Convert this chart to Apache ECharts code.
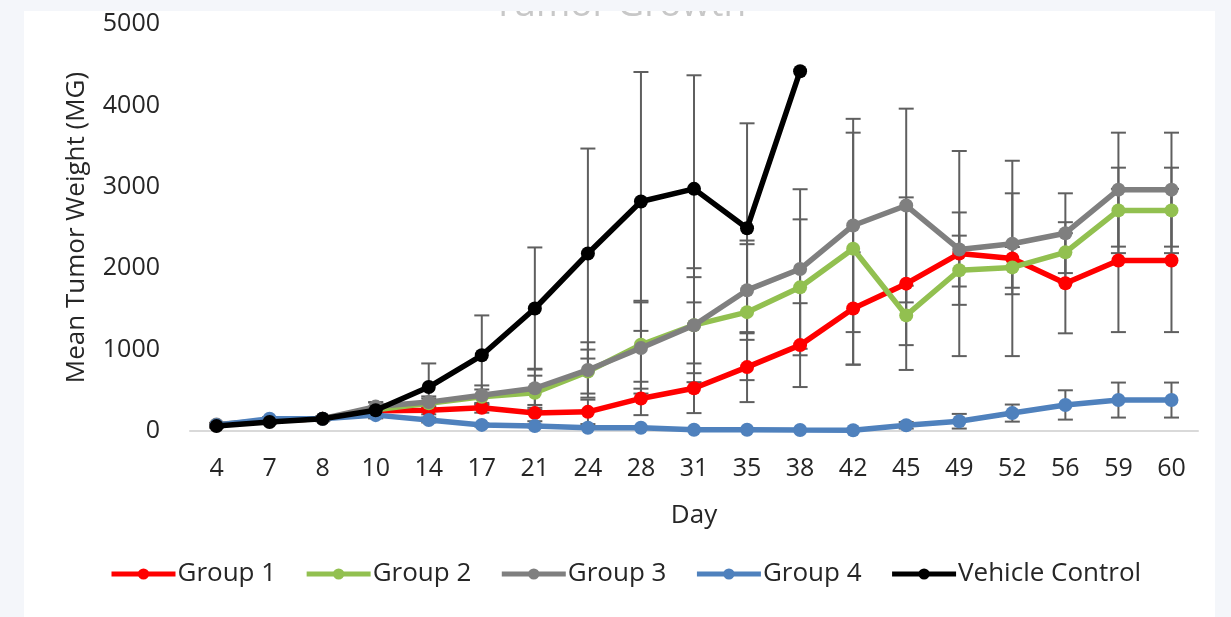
<!DOCTYPE html>
<html>
<head>
<meta charset="utf-8">
<title>Tumor Growth</title>
<script src="https://cdn.jsdelivr.net/npm/echarts@6/dist/echarts.min.js"></script>
<style>
  html, body { margin: 0; padding: 0; background: #f4f6fa; width: 1231px; height: 617px; overflow: hidden; }
  #chart { position: absolute; left: 24px; top: 11px; width: 1191px; height: 606px; background: #ffffff; }
</style>
</head>
<body>
<div id="chart"></div>
<script>
// Study days (x categories)
const days = ['4', '7', '8', '10', '14', '17', '21', '24', '28', '31', '35', '38', '42', '45', '49', '52', '56', '59', '60'];

// Mean tumor weight (mg) per group
const group1 = [70, 130, 150, 250, 255, 285, 220, 235, 400, 525, 785, 1055, 1505, 1810, 2180, 2120, 1815, 2095, 2095];
const group2 = [70, 130, 150, 260, 340, 420, 470, 730, 1060, 1300, 1460, 1765, 2240, 1420, 1975, 2010, 2195, 2710, 2710];
const group3 = [80, 130, 150, 300, 355, 440, 525, 750, 1020, 1300, 1730, 1990, 2525, 2770, 2230, 2300, 2430, 2965, 2965];
const group4 = [70, 150, 150, 195, 135, 75, 60, 40, 40, 15, 15, 12, 10, 70, 120, 220, 320, 380, 380];
const vehicle = [60, 110, 150, 255, 540, 930, 1505, 2180, 2820, 2975, 2490, 4420, null, null, null, null, null, null, null];

// Error (± mg) per group
const group1Err = [20, 20, 20, 40, 50, 60, 100, 150, 205, 305, 430, 515, 690, 1060, 1260, 1200, 615, 880, 880];
const group2Err = [20, 20, 20, 40, 60, 90, 210, 270, 540, 590, 835, 835, 1425, 365, 425, 250, 370, 525, 525];
const group3Err = [20, 20, 20, 50, 70, 120, 240, 340, 560, 700, 610, 980, 1310, 1190, 455, 620, 490, 700, 700];
const group4Err = [20, 20, 20, 30, 30, 20, 15, 10, 10, 5, 5, 5, 5, 40, 90, 105, 180, 215, 215];
const vehicleErr = [20, 20, 30, 100, 290, 490, 750, 1290, 1590, 1395, 1290, 0, null, null, null, null, null, null, null];

// Y axis ticks
const yMin = 0, yMax = 5000, yStep = 1000;

const FONT = 'Open Sans';
const TEXT = '#262626';
const ERR_COLOR = '#5f5f5f';

const seriesDefs = [
  { name: 'Group 1', color: '#ff0000', values: group1, err: group1Err },
  { name: 'Group 2', color: '#92c050', values: group2, err: group2Err },
  { name: 'Group 3', color: '#7f7f7f', values: group3, err: group3Err },
  { name: 'Group 4', color: '#4f81bd', values: group4, err: group4Err },
  { name: 'Vehicle Control', color: '#000000', values: vehicle, err: vehicleErr }
];

function errorData(values, err) {
  const out = [];
  values.forEach((v, i) => {
    if (v == null || err[i] == null || err[i] <= 0) return;
    out.push([i, v - err[i], v + err[i]]);
  });
  return out;
}

function renderErrorBar(params, api) {
  const x = api.value(0);
  const lo = api.coord([x, api.value(1)]);
  const hi = api.coord([x, api.value(2)]);
  const half = 7.5;
  const style = { stroke: ERR_COLOR, lineWidth: 2 };
  return {
    type: 'group',
    children: [
      { type: 'line', shape: { x1: hi[0], y1: hi[1], x2: lo[0], y2: lo[1] }, style },
      { type: 'line', shape: { x1: hi[0] - half, y1: hi[1], x2: hi[0] + half, y2: hi[1] }, style },
      { type: 'line', shape: { x1: lo[0] - half, y1: lo[1], x2: lo[0] + half, y2: lo[1] }, style }
    ]
  };
}

const series = [];
seriesDefs.forEach(d => {
  series.push({
    name: d.name + ' error',
    type: 'custom',
    renderItem: renderErrorBar,
    data: errorData(d.values, d.err),
    z: 1,
    silent: true,
    clip: true
  });
});
seriesDefs.forEach((d, k) => {
  series.push({
    name: d.name,
    type: 'line',
    data: d.values,
    color: d.color,
    symbol: 'circle',
    symbolSize: 14,
    showSymbol: true,
    connectNulls: false,
    lineStyle: { width: 5.5, color: d.color },
    itemStyle: { color: d.color },
    z: 2 + k,
    animation: false
  });
});

const chart = echarts.init(document.getElementById('chart'), null, { renderer: 'canvas' });
chart.setOption({
  animation: false,
  backgroundColor: '#ffffff',
  title: {
    text: 'Tumor Growth',
    left: 'center',
    top: -24,
    padding: 0,
    textStyle: { fontFamily: FONT, fontSize: 37, fontWeight: 'normal', color: '#c8c8c8' }
  },
  grid: {
    left: 166, right: 17, top: 13, bottom: 186,
    containLabel: false,
    outerBoundsMode: 'none'
  },
  legend: {
    data: seriesDefs.map(d => d.name),
    left: 80,
    top: 545,
    itemWidth: 64,
    itemHeight: 14,
    itemGap: 28,
    lineStyle: { width: 5 },
    textStyle: { fontFamily: FONT, fontSize: 26, color: TEXT, padding: [0, 0, 0, -3] }
  },
  xAxis: {
    type: 'category',
    data: days,
    boundaryGap: true,
    name: 'Day',
    nameLocation: 'middle',
    nameGap: 72,
    nameTextStyle: { fontFamily: FONT, fontSize: 26, color: TEXT },
    axisLine: { show: true, lineStyle: { color: '#d9d9d9', width: 2 } },
    axisTick: { show: false },
    axisLabel: { fontFamily: FONT, fontSize: 25, color: TEXT, margin: 25, interval: 0 },
    splitLine: { show: false }
  },
  yAxis: {
    type: 'value',
    min: yMin,
    max: yMax,
    interval: yStep,
    name: 'Mean Tumor Weight (MG)',
    nameLocation: 'middle',
    nameGap: 100,
    nameTextStyle: { fontFamily: FONT, fontSize: 26, color: TEXT },
    axisLine: { show: false },
    axisTick: { show: false },
    axisLabel: { fontFamily: FONT, fontSize: 25, color: TEXT, margin: 30, formatter: v => String(v) },
    splitLine: { show: false }
  },
  series: series
});
</script>
</body>
</html>
